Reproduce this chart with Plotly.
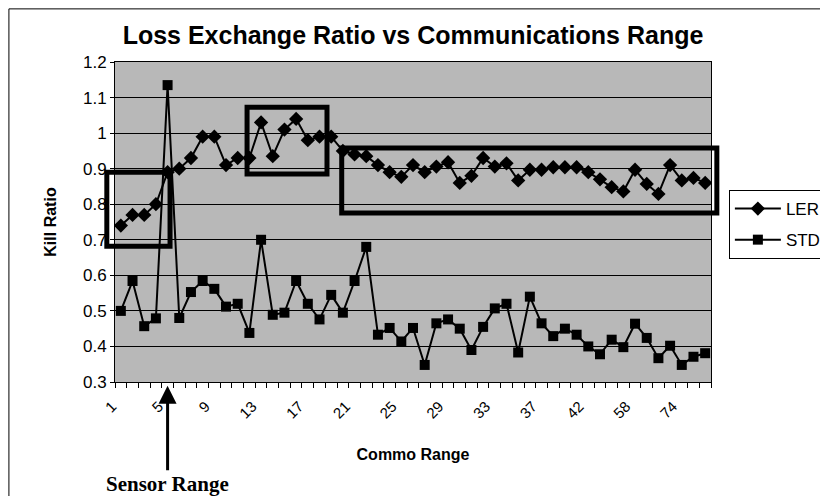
import plotly.graph_objects as go

# ---- data ----
commo_range = ["1", "2", "3", "4", "5", "6", "7", "8", "9", "10",
               "11", "12", "13", "14", "15", "16", "17", "18", "19", "20",
               "21", "22", "23", "24", "25", "26", "27", "28", "29", "30",
               "31", "32", "33", "34", "35", "36", "37", "38", "39", "40",
               "42", "46", "50", "54", "58", "62", "66", "70", "74", "78", "82"]
ler = [0.74, 0.77, 0.77, 0.80, 0.89, 0.90, 0.93, 0.99, 0.99, 0.91,
       0.93, 0.93, 1.03, 0.935, 1.01, 1.04, 0.98, 0.99, 0.99, 0.95,
       0.94, 0.935, 0.91, 0.89, 0.877, 0.91, 0.89, 0.906, 0.918, 0.86,
       0.88, 0.93, 0.906, 0.915, 0.867, 0.897, 0.897, 0.904, 0.904, 0.904,
       0.89, 0.87, 0.848, 0.836, 0.897, 0.857, 0.829, 0.91, 0.867, 0.874, 0.86]
std = [0.50, 0.584, 0.457, 0.479, 1.135, 0.48, 0.553, 0.584, 0.562, 0.512,
       0.52, 0.438, 0.70, 0.489, 0.495, 0.584, 0.52, 0.476, 0.545, 0.495,
       0.584, 0.68, 0.433, 0.452, 0.414, 0.452, 0.348, 0.465, 0.476, 0.45,
       0.39, 0.455, 0.507, 0.52, 0.383, 0.54, 0.465, 0.429, 0.45, 0.433,
       0.40, 0.378, 0.419, 0.398, 0.464, 0.424, 0.367, 0.402, 0.348, 0.371, 0.381]
label_every = 4

idx = list(range(len(commo_range)))
tick_idx = idx[::label_every]
tick_txt = [commo_range[i] + "\u00a0\u00a0\u00a0" for i in tick_idx]

XR = [-0.5, len(commo_range) - 0.5]
YR = [0.3, 1.2]

def px_(i):
    return (i - XR[0]) / (XR[1] - XR[0])

def py_(v):
    return (v - YR[0]) / (YR[1] - YR[0])

fig = go.Figure()
fig.add_trace(go.Scatter(
    x=idx, y=ler, name="LER", mode="lines+markers", legendgroup="a",
    line=dict(color="black", width=2),
    marker=dict(symbol="diamond", size=11, color="black"),
))
fig.add_trace(go.Scatter(
    x=idx, y=std, name="STD", mode="lines+markers", legendgroup="b",
    line=dict(color="black", width=2),
    marker=dict(symbol="square", size=10, color="black"),
))

# highlight boxes (data-space extents converted to paper)
boxes = [(-1.2, 4.21, 0.682, 0.89), (10.8, 17.64, 0.885, 1.073), (18.9, 51.0, 0.775, 0.958)]
for x0, x1, y0, y1 in boxes:
    fig.add_shape(type="rect", xref="paper", yref="paper",
                  x0=px_(x0), x1=px_(x1), y0=py_(y0), y1=py_(y1),
                  line=dict(color="black", width=5), fillcolor="rgba(0,0,0,0)")

# outer frame lines (left, top)
fig.add_shape(type="line", xref="paper", yref="paper", x0=-0.178, x1=-0.178, y0=-0.36, y1=1.166,
              line=dict(color="black", width=1))
fig.add_shape(type="line", xref="paper", yref="paper", x0=-0.178, x1=1.2, y0=1.166, y1=1.166,
              line=dict(color="black", width=1))

# sensor range arrow + label
fig.add_annotation(x=4, y=-0.012, xref="x", yref="paper", ax=0, ay=86,
                   text="", showarrow=True, arrowhead=2, arrowsize=1.2,
                   arrowwidth=3, arrowcolor="black")
fig.add_annotation(x=4, y=-0.318, xref="x", yref="paper", yanchor="middle",
                   text="<b>Sensor Range</b>", showarrow=False,
                   font=dict(family="Liberation Serif", size=21, color="black"))

fig.update_layout(
    width=820, height=488,
    margin=dict(l=107, r=117, t=54, b=114, autoexpand=False),
    paper_bgcolor="white", plot_bgcolor="#b8b8b8",
    font=dict(family="Liberation Sans, Arial", color="black"),
    title=dict(text="<b>Loss Exchange Ratio vs Communications Range</b>",
               x=0.5, xref="paper", y=0.945, yref="container", xanchor="center", yanchor="middle",
               font=dict(size=25)),
    showlegend=True,
    legend=dict(x=1.03, y=0.6, xanchor="left", yanchor="top",
                bordercolor="black", borderwidth=1, bgcolor="white",
                font=dict(size=17), tracegroupgap=6, itemwidth=46),
    xaxis=dict(range=XR, tickmode="array", tickvals=tick_idx, ticktext=tick_txt,
               tickangle=-45, ticks="", tickfont=dict(size=15),
               showgrid=False, zeroline=False,
               showline=True, linecolor="black", linewidth=1, mirror=True,
               minor=dict(ticks="outside", ticklen=5, tickcolor="black",
                          tick0=-0.5, dtick=1, showgrid=False),
               title=dict(text="<b>Commo Range</b>", font=dict(size=16), standoff=28)),
    yaxis=dict(range=YR, dtick=0.1, tick0=0.3, ticks="outside", ticklen=4,
               tickcolor="black", tickfont=dict(size=17),
               showgrid=True, gridcolor="black", gridwidth=1, zeroline=False,
               showline=True, linecolor="black", linewidth=1, mirror=True,
               title=dict(text="<b>Kill Ratio</b>", font=dict(size=16), standoff=22)),
)

fig.write_html("out.html")
